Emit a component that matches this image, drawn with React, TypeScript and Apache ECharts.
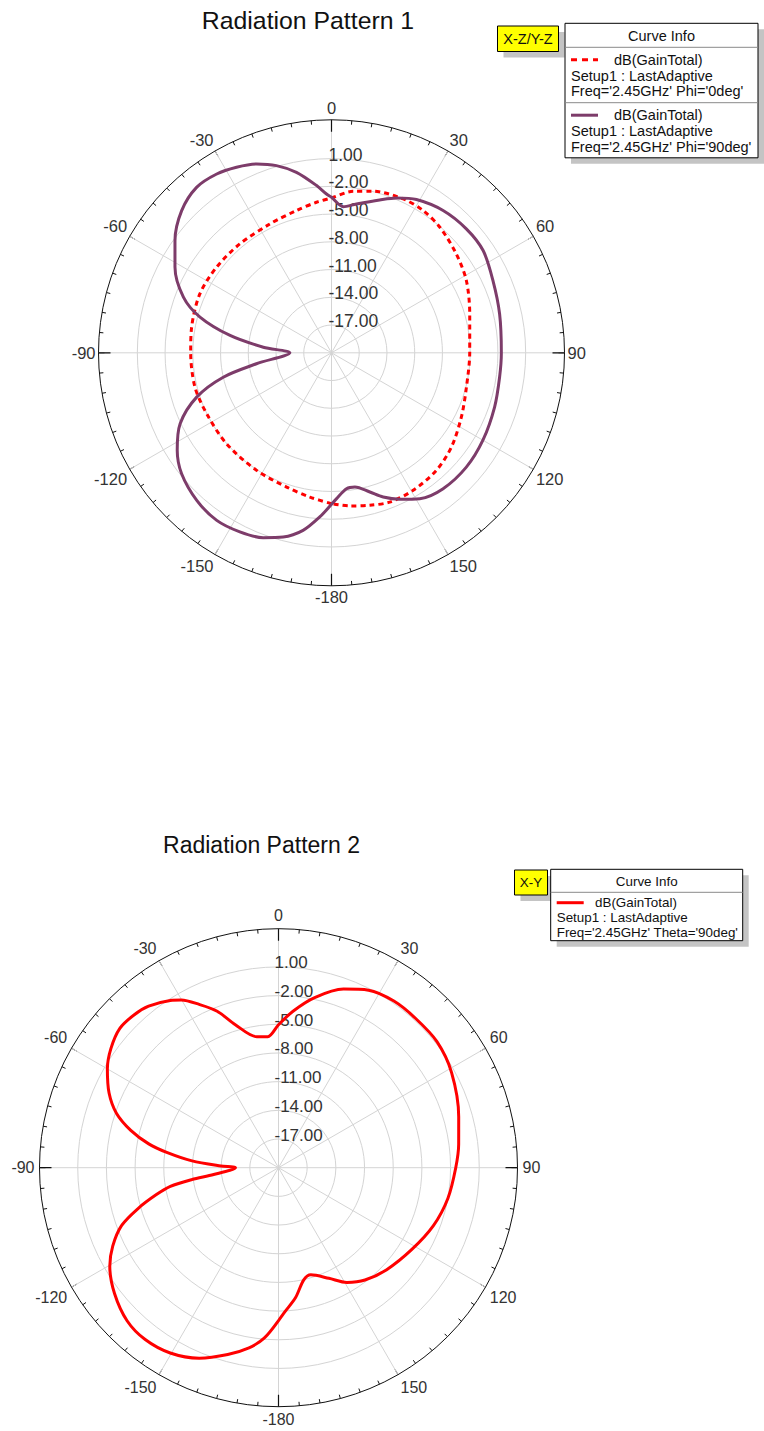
import React, { useEffect, useRef } from "react";
import * as echarts from "echarts";

const FONT = "'Liberation Sans', Arial, sans-serif";

// ---------- texts ----------
const titles = ["Radiation Pattern 1", "Radiation Pattern 2"];
const planeTags = ["X-Z/Y-Z", "X-Y"];
const legendHeader = "Curve Info";
const curveName = "dB(GainTotal)";
const setupName = "Setup1 : LastAdaptive";
const sweeps1 = ["Freq='2.45GHz' Phi='0deg'", "Freq='2.45GHz' Phi='90deg'"];
const sweeps2 = ["Freq='2.45GHz' Theta='90deg'"];

// ---------- axes ----------
const radiusMin = -20;
const radiusStep = 3;
const radiusMax1 = 5.2;
const radiusMax2 = 5.0;
const radiusLabelTop = 1; // highest labelled ring (dB)

// ---------- data (angle in deg, gain in dB) ----------
// Pattern 1, Phi = 0deg (red dashed)
const p1Phi0Angles = [-180, -171.5, -161.5, -147.5, -130.9, -116, -104.1, -90, -79.6, -65.9, -53.3, -40.1, -25.5, -13.8, -5.7, 0, 7.6, 14.5, 25, 32.8, 40.8, 51.6, 61.8, 74.3, 90, 104.3, 116.3, 128.2, 138.3, 149.3, 158.7, 165.9, 173.2, 180];
const p1Phi0Gain = [-3.68, -4.22, -4.69, -4.92, -4.98, -4.98, -4.77, -4.77, -4.62, -4.4, -4.5, -4.6, -4.55, -4.15, -3.64, -3.25, -2.38, -1.95, -1.64, -1.7, -2.06, -2.78, -3.45, -4.47, -5.05, -4.94, -4.33, -3.5, -2.96, -2.7, -2.67, -3.0, -3.32, -3.68];

// Pattern 1, Phi = 90deg (purple solid)
const p1Phi90Angles = [-180, -175.9, -170.9, -165.3, -159.7, -152.9, -145.6, -137.6, -128.9, -122.3, -115.1, -108.2, -102.7, -98.3, -90, -85.3, -80.3, -74.8, -69.4, -61.3, -54.4, -46.5, -39.2, -32.7, -27.1, -21.6, -16.4, -11, -5.1, -1.8, 0, 4.6, 9.5, 17.5, 22.8, 29, 38.1, 47.4, 56, 65.9, 77, 90, 98.2, 108.4, 120, 130.3, 140.6, 148.8, 155, 160.3, 164.6, 170.1, 173.7, 178, 180];
const p1Phi90Gain = [-3.61, -2.2, -0.55, 0.6, 1.32, 1.76, 1.97, 1.61, 0.83, -0.26, -1.92, -4.65, -8.0, -11.8, -15.5, -12.6, -8.87, -5.26, -2.89, -0.7, 0.82, 2.34, 3.09, 2.98, 2.55, 1.97, 1.1, -0.12, -1.84, -2.82, -3.18, -4.15, -3.68, -2.67, -1.84, -1.05, -0.44, -0.19, -0.22, -0.87, -1.34, -1.63, -1.63, -1.41, -1.09, -0.88, -0.98, -1.56, -2.53, -3.43, -4.38, -5.27, -5.21, -4.22, -3.61];

// Pattern 2, Theta = 90deg (red solid)
const p2Theta90Angles = [-180, -175.2, -170.7, -164.8, -157.4, -149.7, -142.2, -135.3, -127.5, -120.3, -115.3, -110.2, -106.2, -102.5, -99.8, -97.8, -96, -90, -88.3, -85.5, -82.2, -79.6, -75.8, -71.4, -66.2, -60, -54.6, -48.7, -43.3, -38.8, -32.9, -30.1, -25.9, -21.4, -16.8, -9.4, -4.7, 0, 5.3, 12, 20, 26.9, 34.7, 42.5, 51.5, 61.2, 74.2, 82.5, 90, 100.2, 110.5, 121.5, 133.3, 142.4, 149.2, 155.5, 163.2, 167.3, 172.5, 177.5, 180];
const p2Theta90Gain = [-4.0, -2.1, -0.9, 0.25, 1.58, 2.45, 2.75, 2.52, 1.62, 0.44, -0.82, -2.52, -4.7, -6.88, -8.52, -10.86, -13.18, -15.5, -13.96, -10.93, -8.2, -6.2, -4.06, -2.11, -0.63, 0.67, 1.51, 2.09, 1.99, 1.68, 0.84, 0.28, -1.01, -2.42, -4.38, -6.12, -6.25, -5.05, -3.56, -1.81, -0.12, 0.82, 1.2, 1.2, 1.18, 0.66, -0.41, -0.99, -1.46, -1.99, -2.7, -3.64, -4.45, -5.17, -6.03, -7.29, -8.29, -7.97, -6.3, -4.9, -4.0];

// ---------- helpers ----------
const toAxisAngle = (a: number) => (a < 0 ? a + 360 : a);
const toPolarData = (angles: number[], gains: number[]) =>
  gains.map((g, i) => [g, toAxisAngle(angles[i])]);

const ringValues = (max: number) => {
  const out: number[] = [];
  for (let v = radiusMin; v <= max + 1e-9; v += radiusStep) out.push(v);
  if (out[out.length - 1] < max - 1e-9) out.push(max);
  return out;
};

const GRID = "#d4d4d4";
const INK = "#333333";

function polarAxes(
  polarIndex: number,
  max: number,
  angleFont: number,
  radiusFont: number,
  margin: number,
  radiusMargin: number
) {
  const rings = ringValues(max);
  const ringColors = rings.map((v) => (v > radiusLabelTop + 0.01 ? "rgba(0,0,0,0)" : GRID));
  const angle = {
    polarIndex,
    type: "value",
    min: 0,
    max: 360,
    interval: 30,
    startAngle: 90,
    clockwise: true,
    axisLine: { show: true, lineStyle: { color: "#111", width: 1 } },
    axisTick: { show: true, inside: true, length: 6, lineStyle: { color: "#111", width: 1 } },
    minorTick: { show: true, splitNumber: 6, length: 4, lineStyle: { color: "#111", width: 1 } },
    splitLine: { show: true, lineStyle: { color: GRID, width: 1 } },
    axisLabel: {
      show: true,
      margin,
      fontSize: angleFont,
      fontFamily: FONT,
      color: INK,
      formatter: (v: number) => (v >= 360 ? "" : String(v >= 180 ? v - 360 : v)),
    },
  };
  const radius = {
    polarIndex,
    type: "value",
    min: radiusMin,
    max,
    interval: radiusStep,
    axisLine: { show: false },
    axisTick: { show: false },
    splitLine: { show: true, lineStyle: { color: ringColors, width: 1 } },
    axisLabel: {
      show: true,
      margin: radiusMargin,
      fontSize: radiusFont,
      fontFamily: FONT,
      color: INK,
      align: "left",
      verticalAlign: "bottom",
      lineHeight: 8,
      formatter: (v: number) =>
        v > radiusMin + 0.01 && v <= radiusLabelTop + 0.01 ? v.toFixed(2) : "",
    },
  };
  // overlay axes: long ticks every 90 degrees
  const angleLong = {
    polarIndex: polarIndex + 1,
    type: "value",
    min: 0,
    max: 360,
    interval: 90,
    startAngle: 90,
    clockwise: true,
    axisLine: { show: false },
    axisTick: { show: true, inside: true, length: 12, lineStyle: { color: "#111", width: 1.2 } },
    splitLine: { show: false },
    axisLabel: { show: false },
  };
  const radiusLong = {
    polarIndex: polarIndex + 1,
    type: "value",
    min: radiusMin,
    max,
    show: false,
  };
  return { angles: [angle, angleLong], radii: [radius, radiusLong] };
}

function legendGraphic(
  tag: string,
  tagBox: number[],
  box: number[],
  entries: { color: string; dash: number[] | null; sweep: string }[],
  fontSize: number,
  lineGap: number,
  nameX: number,
  headerH: number,
  firstOffset: number
) {
  const els: any[] = [];
  const shadow = "#c4c4c4";
  const [tx, ty, tw, th] = tagBox;
  els.push({ type: "rect", shape: { x: tx + 6, y: ty + 6, width: tw, height: th }, style: { fill: shadow } });
  els.push({ type: "rect", shape: { x: tx, y: ty, width: tw, height: th }, style: { fill: "#ffff00", stroke: "#000", lineWidth: 1 } });
  els.push({
    type: "text",
    x: tx + tw / 2,
    y: ty + th / 2,
    style: { text: tag, fontSize, fontFamily: FONT, fill: "#111", align: "center", verticalAlign: "middle" },
  });
  const [bx, by, bw, bh] = box;
  els.push({ type: "rect", shape: { x: bx + 6, y: by + 6, width: bw, height: bh }, style: { fill: shadow } });
  els.push({ type: "rect", shape: { x: bx, y: by, width: bw, height: bh }, style: { fill: "#fff", stroke: "#000", lineWidth: 1 } });
  els.push({
    type: "text",
    x: bx + bw / 2,
    y: by + headerH / 2 + 1,
    style: { text: legendHeader, fontSize, fontFamily: FONT, fill: "#111", align: "center", verticalAlign: "middle" },
  });
  els.push({ type: "line", shape: { x1: bx, y1: by + headerH, x2: bx + bw, y2: by + headerH }, style: { stroke: "#8a8a8a", lineWidth: 1 } });
  const blockH = lineGap * 3 + 8;
  entries.forEach((e, i) => {
    const top = by + headerH + i * blockH;
    if (i > 0) {
      els.push({ type: "line", shape: { x1: bx, y1: top, x2: bx + bw, y2: top }, style: { stroke: "#8a8a8a", lineWidth: 1 } });
    }
    const y0 = top + firstOffset;
    els.push({
      type: "line",
      shape: { x1: bx + 6, y1: y0, x2: bx + 33, y2: y0 },
      style: { stroke: e.color, lineWidth: 3, lineDash: e.dash || undefined },
    });
    const texts = [curveName, setupName, e.sweep];
    texts.forEach((t, k) => {
      els.push({
        type: "text",
        x: k === 0 ? nameX : bx + 6,
        y: y0 + k * lineGap,
        style: { text: t, fontSize, fontFamily: FONT, fill: "#111", align: "left", verticalAlign: "middle" },
      });
    });
  });
  return els;
}

export default function App() {
  const ref = useRef<HTMLDivElement>(null);
  useEffect(() => {
    if (!ref.current) return;
    const chart = echarts.init(ref.current, undefined, { renderer: "svg" });
    const a1 = polarAxes(0, radiusMax1, 16.5, 17.5, 3, 3);
    const a2 = polarAxes(2, radiusMax2, 16, 17, 5, 4);

    const graphic: any[] = [
      {
        type: "text",
        x: 308,
        y: 20,
        style: { text: titles[0], fontSize: 24.8, fontFamily: FONT, fill: "#111", align: "center", verticalAlign: "middle" },
      },
      {
        type: "text",
        x: 261.5,
        y: 845,
        style: { text: titles[1], fontSize: 23, fontFamily: FONT, fill: "#111", align: "center", verticalAlign: "middle" },
      },
      ...legendGraphic(
        planeTags[0],
        [497.5, 26, 61, 25.5],
        [565, 23.3, 193, 134.5],
        [
          { color: "#ff0000", dash: [6, 5], sweep: sweeps1[0] },
          { color: "#7d3c6a", dash: null, sweep: sweeps1[1] },
        ],
        14.5,
        15.8,
        614,
        24,
        12.5
      ),
      ...legendGraphic(
        planeTags[1],
        [514.5, 870, 33, 25],
        [550.7, 869.3, 192, 71.4],
        [{ color: "#ff0000", dash: null, sweep: sweeps2[0] }],
        13.4,
        14.8,
        595,
        23,
        10.4
      ),
    ];

    chart.setOption({
      animation: false,
      textStyle: { fontFamily: FONT },
      polar: [
        { center: [331.5, 352.8], radius: 233 },
        { center: [331.5, 352.8], radius: 233 },
        { center: [278.5, 1167.7], radius: 239 },
        { center: [278.5, 1167.7], radius: 239 },
      ],
      angleAxis: [...a1.angles, ...a2.angles],
      radiusAxis: [...a1.radii, ...a2.radii],
      series: [
        {
          type: "line",
          name: "Phi 0",
          coordinateSystem: "polar",
          polarIndex: 0,
          data: toPolarData(p1Phi0Angles, p1Phi0Gain),
          showSymbol: false,
          smooth: 0.3,
          lineStyle: { color: "#ff0000", width: 3, type: [5, 4] },
          z: 3,
        },
        {
          type: "line",
          name: "Phi 90",
          coordinateSystem: "polar",
          polarIndex: 0,
          data: toPolarData(p1Phi90Angles, p1Phi90Gain),
          showSymbol: false,
          smooth: 0.3,
          lineStyle: { color: "#7d3c6a", width: 3 },
          z: 4,
        },
        {
          type: "line",
          name: "Theta 90",
          coordinateSystem: "polar",
          polarIndex: 2,
          data: toPolarData(p2Theta90Angles, p2Theta90Gain),
          showSymbol: false,
          smooth: 0.3,
          lineStyle: { color: "#ff0000", width: 3 },
          z: 4,
        },
      ],
      graphic,
    });
    return () => chart.dispose();
  }, []);
  return (
    <div
      ref={ref}
      style={{ position: "absolute", left: 0, top: 0, width: 764, height: 1431, background: "#fff" }}
    />
  );
}
